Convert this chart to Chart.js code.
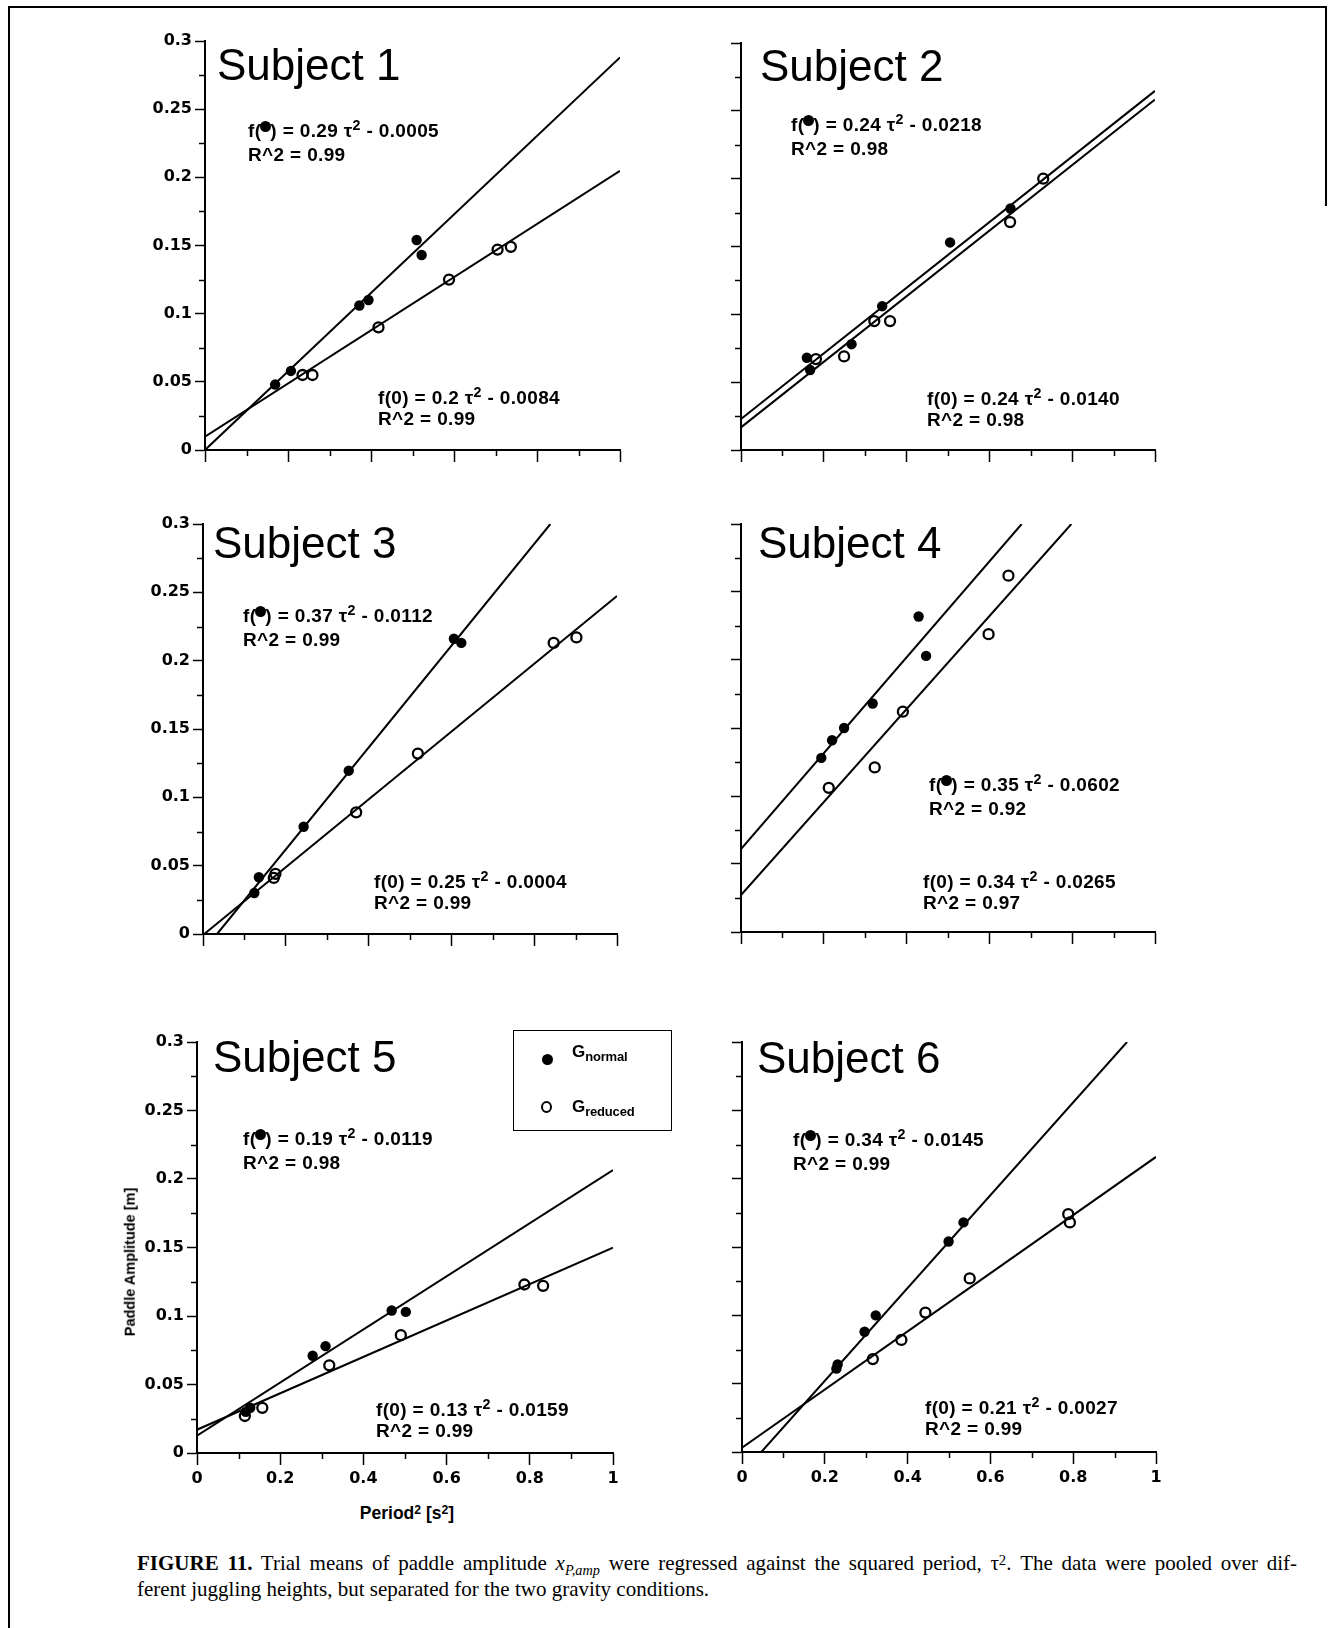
<!DOCTYPE html>
<html>
<head>
<meta charset="utf-8">
<title>Figure 11 - Paddle amplitude against squared period</title>
<script src="https://cdn.jsdelivr.net/npm/chart.js@4"></script>
<style>
  body { margin: 0; background: #fff; }
  #page { position: relative; width: 1332px; height: 1628px; overflow: hidden; background: #fff; }
  canvas { position: absolute; }
  .rule { position: absolute; background: #000; }
  .title { position: absolute; font-family: "Liberation Sans", Arial, sans-serif; font-size: 44px; line-height: 1; white-space: nowrap; color: #000; }
  .eq { position: absolute; font-family: "Liberation Sans", Arial, sans-serif; font-weight: bold; font-size: 19px; line-height: 1; white-space: nowrap; color: #000; letter-spacing: 0.35px; }
  .eq .sup { position: relative; top: -0.45em; font-size: 0.75em; }
  .eq .dot { display: inline-block; width: 11px; height: 11px; border-radius: 50%; background: #000; position: relative; top: -5px; margin: 0 -1px; }
  .axtitle { position: absolute; font-family: "Liberation Sans", Arial, sans-serif; font-weight: bold; font-size: 14.5px; line-height: 1; white-space: nowrap; transform: translate(-50%, -50%); }
  .axtitle .sup { position: relative; top: -0.4em; font-size: 0.7em; }
  #legend { position: absolute; left: 513px; top: 1030px; width: 159px; height: 101px; border: 1.5px solid #000; box-sizing: border-box; }
  .lg { position: absolute; font-family: "Liberation Sans", Arial, sans-serif; font-weight: bold; font-size: 17px; line-height: 1; white-space: nowrap; }
  .lg .sub { position: relative; top: 0.35em; font-size: 13px; letter-spacing: -0.2px; }
  .mark { position: absolute; border-radius: 50%; box-sizing: border-box; }
  .cap { position: absolute; font-family: "Liberation Serif", "Times New Roman", serif; font-size: 21px; line-height: 1; white-space: nowrap; color: #000; }
  .cap .sub { position: relative; top: 0.3em; font-size: 0.68em; font-style: italic; }
  .cap .sup { position: relative; top: -0.4em; font-size: 0.7em; }
</style>
</head>
<body>
<div id="page"></div>
<script>
// axis ticks
const xTickValues = [0, 0.2, 0.4, 0.6, 0.8, 1];
const xTickLabels = ['0', '0.2', '0.4', '0.6', '0.8', '1'];
const xMinorTicks = [0.1, 0.3, 0.5, 0.7, 0.9];
const yTickValues = [0, 0.05, 0.1, 0.15, 0.2, 0.25, 0.3];
const yTickLabels = ['0', '0.05', '0.1', '0.15', '0.2', '0.25', '0.3'];
const yMinorTicks = [0.025, 0.075, 0.125, 0.175, 0.225, 0.275];

const subjectNames = ['Subject 1', 'Subject 2', 'Subject 3', 'Subject 4', 'Subject 5', 'Subject 6'];

// [period^2, amplitude]
const s1Normal = [[0.169, 0.048], [0.207, 0.058], [0.372, 0.106], [0.394, 0.110], [0.510, 0.154], [0.522, 0.143]];
const s1Reduced = [[0.235, 0.055], [0.259, 0.055], [0.418, 0.090], [0.588, 0.125], [0.705, 0.147], [0.737, 0.149]];
const s1FitNormal = [[0, 0.0], [1, 0.288]];
const s1FitReduced = [[0, 0.0098], [1, 0.2047]];

const s2Normal = [[0.159, 0.068], [0.167, 0.059], [0.267, 0.078], [0.341, 0.106], [0.505, 0.153], [0.651, 0.178]];
const s2Reduced = [[0.181, 0.067], [0.249, 0.069], [0.322, 0.095], [0.360, 0.095], [0.650, 0.168], [0.730, 0.200]];
const s2FitNormal = [[0, 0.0228], [1, 0.2647]];
const s2FitReduced = [[0, 0.0167], [1, 0.2583]];

const s3Normal = [[0.124, 0.030], [0.135, 0.0415], [0.243, 0.0785], [0.352, 0.1195], [0.606, 0.216], [0.624, 0.213]];
const s3Reduced = [[0.171, 0.041], [0.175, 0.044], [0.370, 0.089], [0.519, 0.132], [0.847, 0.213], [0.902, 0.217]];
const s3FitNormal = [[0.034, 0], [0.839, 0.3]];
const s3FitReduced = [[0.003, 0], [1, 0.2473]];

const s4Normal = [[0.194, 0.128], [0.220, 0.141], [0.249, 0.150], [0.318, 0.168], [0.429, 0.232], [0.447, 0.203]];
const s4Reduced = [[0.212, 0.106], [0.323, 0.121], [0.391, 0.162], [0.598, 0.219], [0.646, 0.262]];
const s4FitNormal = [[0, 0.061], [0.678, 0.3]];
const s4FitReduced = [[0, 0.0272], [0.798, 0.3]];

const s5Normal = [[0.117, 0.030], [0.128, 0.033], [0.278, 0.071], [0.309, 0.078], [0.468, 0.104], [0.502, 0.103]];
const s5Reduced = [[0.115, 0.027], [0.157, 0.033], [0.318, 0.064], [0.490, 0.086], [0.787, 0.123], [0.832, 0.122]];
const s5FitNormal = [[0, 0.0126], [1, 0.2065]];
const s5FitReduced = [[0, 0.017], [1, 0.1499]];

const s6Normal = [[0.228, 0.061], [0.231, 0.064], [0.296, 0.088], [0.323, 0.100], [0.499, 0.154], [0.535, 0.168]];
const s6Reduced = [[0.316, 0.068], [0.385, 0.082], [0.443, 0.102], [0.550, 0.127], [0.788, 0.174], [0.792, 0.168]];
const s6FitNormal = [[0.0467, 0], [0.93, 0.3]];
const s6FitReduced = [[0, 0.0032], [1, 0.2159]];

// regression labels as printed
const normalSlope = ['0.29', '0.24', '0.37', '0.35', '0.19', '0.34'];
const normalConst = ['0.0005', '0.0218', '0.0112', '0.0602', '0.0119', '0.0145'];
const normalR2 = ['0.99', '0.98', '0.99', '0.92', '0.98', '0.99'];
const reducedSlope = ['0.2', '0.24', '0.25', '0.34', '0.13', '0.21'];
const reducedConst = ['0.0084', '0.0140', '0.0004', '0.0265', '0.0159', '0.0027'];
const reducedR2 = ['0.99', '0.98', '0.99', '0.97', '0.99', '0.99'];

// layout (page pixels)
const AX_W = 80, AX_H = 45, PAD_T = 15, PAD_R = 15;
const panels = [
  { normal: s1Normal, reduced: s1Reduced, fitA: s1FitNormal, fitB: s1FitReduced, box: [205, 41, 620, 450], yLab: true, xLab: false,
    title: [217, 80], eqN: [248, 130], eqR: [378, 397] },
  { normal: s2Normal, reduced: s2Reduced, fitA: s2FitNormal, fitB: s2FitReduced, box: [741, 43, 1155, 450], yLab: false, xLab: false,
    title: [760, 81], eqN: [791, 124], eqR: [927, 398] },
  { normal: s3Normal, reduced: s3Reduced, fitA: s3FitNormal, fitB: s3FitReduced, box: [203, 524, 617, 934], yLab: true, xLab: false,
    title: [213, 558], eqN: [243, 615], eqR: [374, 881] },
  { normal: s4Normal, reduced: s4Reduced, fitA: s4FitNormal, fitB: s4FitReduced, box: [741, 524, 1155, 932], yLab: false, xLab: false,
    title: [758, 558], eqN: [929, 784], eqR: [923, 881] },
  { normal: s5Normal, reduced: s5Reduced, fitA: s5FitNormal, fitB: s5FitReduced, box: [197, 1042, 613, 1453], yLab: true, xLab: true,
    title: [213, 1072], eqN: [243, 1138], eqR: [376, 1409] },
  { normal: s6Normal, reduced: s6Reduced, fitA: s6FitNormal, fitB: s6FitReduced, box: [742, 1042, 1156, 1452], yLab: false, xLab: true,
    title: [757, 1073], eqN: [793, 1139], eqR: [925, 1407] }
];

Chart.defaults.font.family = '"DejaVu Sans", sans-serif';
Chart.defaults.color = '#000';

const page = document.getElementById('page');

// short minor tick marks on both axes
const minorTicks = {
  id: 'minorTicks',
  afterDraw(chart) {
    const { ctx, chartArea, scales } = chart;
    ctx.save();
    ctx.strokeStyle = '#000';
    ctx.lineWidth = 1.5;
    ctx.beginPath();
    xMinorTicks.forEach(v => {
      const px = Math.round(scales.x.getPixelForValue(v)) + 0.5;
      ctx.moveTo(px, chartArea.bottom);
      ctx.lineTo(px, chartArea.bottom + 6);
    });
    yMinorTicks.forEach(v => {
      const py = Math.round(scales.y.getPixelForValue(v)) + 0.5;
      ctx.moveTo(chartArea.left, py);
      ctx.lineTo(chartArea.left - 6, py);
    });
    ctx.stroke();
    ctx.restore();
  }
};

function toXY(arr) {
  return arr.map(p => ({ x: p[0], y: p[1] }));
}

function addDiv(cls, html, left, top) {
  const d = document.createElement('div');
  d.className = cls;
  d.innerHTML = html;
  d.style.left = left + 'px';
  d.style.top = top + 'px';
  page.appendChild(d);
  return d;
}

function fitLine(pts) {
  return { data: toXY(pts), showLine: true, pointRadius: 0, borderColor: '#000', borderWidth: 2, fill: false };
}

panels.forEach((p, i) => {
  const [l, t, r, b] = p.box;
  const cv = document.createElement('canvas');
  cv.width = r - l + AX_W + PAD_R;
  cv.height = b - t + PAD_T + AX_H;
  cv.style.left = (l - AX_W) + 'px';
  cv.style.top = (t - PAD_T) + 'px';
  page.appendChild(cv);

  new Chart(cv, {
    type: 'scatter',
    data: {
      datasets: [
        { data: toXY(p.normal), pointStyle: 'circle', pointRadius: 5.2, backgroundColor: '#000', borderColor: '#000', borderWidth: 0 },
        { data: toXY(p.reduced), pointStyle: 'circle', pointRadius: 5, backgroundColor: 'rgba(0,0,0,0)', borderColor: '#000', borderWidth: 2.3 },
        fitLine(p.fitA),
        fitLine(p.fitB)
      ]
    },
    options: {
      responsive: false,
      animation: false,
      devicePixelRatio: 1,
      events: [],
      layout: { padding: { left: 0, top: PAD_T, right: PAD_R, bottom: 0 }, autoPadding: false },
      plugins: { legend: { display: false }, tooltip: { enabled: false } },
      scales: {
        x: {
          type: 'linear', min: 0, max: 1,
          afterBuildTicks: s => { s.ticks = xTickValues.map(v => ({ value: v })); },
          ticks: { callback: (v, k) => p.xLab ? xTickLabels[k] : '', autoSkip: false, maxRotation: 0, padding: 4,
                   font: { size: 16, weight: 'bold' } },
          grid: { drawOnChartArea: false, drawTicks: true, tickLength: 12, tickColor: '#000', tickWidth: 1.5 },
          border: { display: true, color: '#000', width: 2 },
          afterFit: s => { s.height = AX_H; s.paddingLeft = 0; s.paddingRight = 0; }
        },
        y: {
          type: 'linear', min: 0, max: 0.3,
          afterBuildTicks: s => { s.ticks = yTickValues.map(v => ({ value: v })); },
          ticks: { callback: (v, k) => p.yLab ? yTickLabels[k] : '', autoSkip: false, padding: 3,
                   font: { size: 16, weight: 'bold' } },
          grid: { drawOnChartArea: false, drawTicks: true, tickLength: 10, tickColor: '#000', tickWidth: 1.5 },
          border: { display: true, color: '#000', width: 2 },
          afterFit: s => { s.width = AX_W; s.paddingTop = 0; s.paddingBottom = 0; }
        }
      }
    },
    plugins: [minorTicks]
  });

  // panel title and regression labels
  addDiv('title', subjectNames[i], p.title[0], p.title[1] - 37.2);
  const fs = 19, up = 0.49 * fs;
  addDiv('eq', 'f(<span class="dot"></span>) = ' + normalSlope[i] + ' \u03c4<span class="sup">2</span> - ' + normalConst[i],
         p.eqN[0], p.eqN[1] - up);
  addDiv('eq', 'R^2 = ' + normalR2[i], p.eqN[0], p.eqN[1] + 24 - up);
  addDiv('eq', 'f(0) = ' + reducedSlope[i] + ' \u03c4<span class="sup">2</span> - ' + reducedConst[i],
         p.eqR[0], p.eqR[1] - up);
  addDiv('eq', 'R^2 = ' + reducedR2[i], p.eqR[0], p.eqR[1] + 21 - up);
});

// axis titles (shared, on Subject 5)
const yt = addDiv('axtitle', 'Paddle Amplitude [m]', 130, 1262);
yt.style.transform = 'translate(-50%, -50%) rotate(-90deg)';
const xt = addDiv('axtitle', 'Period<span class="sup">2</span> [s<span class="sup">2</span>]', 407, 1514);
xt.style.fontSize = '17.5px';

// legend
const lg = document.createElement('div');
lg.id = 'legend';
page.appendChild(lg);
const m1 = addDiv('mark', '', 542, 1054);
m1.style.width = '11px'; m1.style.height = '11px'; m1.style.background = '#000';
const m2 = addDiv('mark', '', 541, 1101);
m2.style.width = '11px'; m2.style.height = '12px'; m2.style.border = '2.3px solid #000';
addDiv('lg', 'G<span class="sub">normal</span>', 572, 1051 - 8.3);
addDiv('lg', 'G<span class="sub">reduced</span>', 572, 1106 - 8.3);

// figure frame
[[8, 6, 2, 1622], [8, 6, 1318, 2], [1325, 6, 2, 200]].forEach(f => {
  const d = addDiv('rule', '', f[0], f[1]);
  d.style.width = f[2] + 'px';
  d.style.height = f[3] + 'px';
});

// caption
const c1 = addDiv('cap', '<b>FIGURE 11.</b> Trial means of paddle amplitude <i>x</i><span class="sub">P,amp</span> were regressed against the squared period, \u03c4<span class="sup">2</span>. The data were pooled over dif-',
                  137, 1571 - 17.6);
c1.style.width = (1297 - 137) + 'px';
c1.style.whiteSpace = 'normal';
c1.style.textAlign = 'justify';
c1.style.textAlignLast = 'justify';
addDiv('cap', 'ferent juggling heights, but separated for the two gravity conditions.', 137, 1597 - 17.6);
</script>
</body>
</html>
